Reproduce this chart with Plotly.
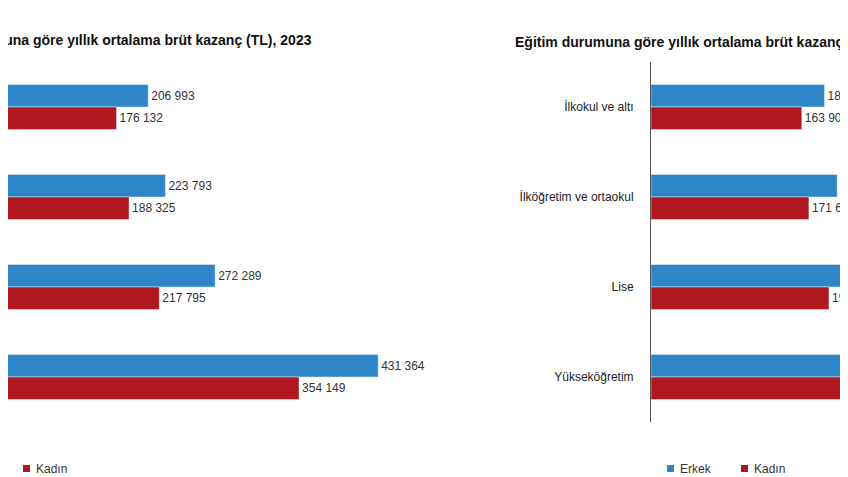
import plotly.graph_objects as go

left_cats = ["15-29", "30-39", "40-49", "50+"]
left_erkek = [206993, 223793, 272289, 431364]
left_kadin = [176132, 188325, 217795, 354149]

right_cats = ["İlkokul ve altı", "İlköğretim ve ortaokul", "Lise", "Yükseköğretim"]
right_erkek = [188512, 202341, 241870, 382650]
right_kadin = [163904, 171635, 193420, 312780]

legend_names = ["Erkek", "Kadın"]

BLUE = "#2e86c8"
RED = "#b0171f"
W, H, T, B = 848, 477, 54, 63

def fmt(v):
    return f"{v:,}".replace(",", " ")

def px(x):
    return x / W

def py(y):
    return (H - B - y) / (H - T - B)

fig = go.Figure()
font = dict(family="Liberation Sans, Arial", size=12, color="#333333")

for xs, ys, vals, color, ax in [
    ("x", "y", left_erkek, BLUE, left_cats), ("x", "y", left_kadin, RED, left_cats),
    ("x2", "y2", right_erkek, BLUE, right_cats), ("x2", "y2", right_kadin, RED, right_cats)]:
    fig.add_bar(y=ax, x=vals, orientation="h", marker_color=color, showlegend=False,
                text=[fmt(v) for v in vals], textposition="outside", textfont=font,
                xaxis=xs, yaxis=ys)

shapes = []
annotations = [
    dict(text="<b>Yaş grubuna göre yıllık ortalama brüt kazanç (TL), 2023</b>", xref="paper",
         yref="paper", x=px(306), y=py(32), xanchor="right", yanchor="middle", showarrow=False,
         font=dict(family="Liberation Sans, Arial", size=14, color="#111111")),
    dict(text="<b>Eğitim durumuna göre yıllık ortalama brüt kazanç (TL), 2023</b>", xref="paper",
         yref="paper", x=px(505), y=py(34), xanchor="left", yanchor="middle", showarrow=False,
         font=dict(family="Liberation Sans, Arial", size=14, color="#111111")),
]
# legends: (marker x, name index)
for mx, idx in [(-50, 0), (18, 1), (662, 0), (736, 1)]:
    color = BLUE if idx == 0 else RED
    shapes.append(dict(type="rect", xref="paper", yref="paper", x0=px(mx - 3), x1=px(mx + 4),
                       y0=py(464), y1=py(457), fillcolor=color, line_width=0))
    annotations.append(dict(text=legend_names[idx], xref="paper", yref="paper", x=px(mx + 8),
                            y=py(461), xanchor="left", yanchor="middle", showarrow=False,
                            font=dict(family="Liberation Sans, Arial", size=12, color="#333333")))

fig.update_layout(
    width=W, height=H, margin=dict(l=0, r=0, t=T, b=B, autoexpand=False),
    plot_bgcolor="white", paper_bgcolor="white",
    barmode="group", bargap=0.5, bargroupgap=0,
    font=font, showlegend=False,
    xaxis=dict(domain=[0, 0.5], range=[70200, 483900], showgrid=False, showticklabels=False,
               zeroline=False, showline=False, automargin=False),
    yaxis=dict(autorange="reversed", showticklabels=False, showgrid=False, anchor="x",
               automargin=False),
    xaxis2=dict(domain=[643/848, 1], range=[0, 222800], showgrid=False, showticklabels=False,
                zeroline=False, showline=False, anchor="y2", automargin=False),
    yaxis2=dict(autorange="reversed", showgrid=False, anchor="x2", showline=True,
                linecolor="#555555", linewidth=1, ticks="", ticklabelstandoff=14,
                automargin=False,
                tickfont=dict(family="Liberation Sans, Arial", size=12, color="#222222")),
    shapes=shapes, annotations=annotations,
)

fig.write_html("out.html")
